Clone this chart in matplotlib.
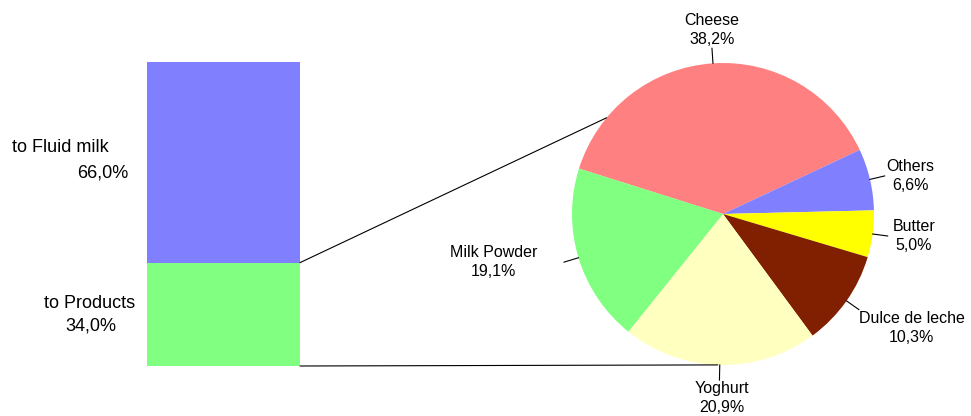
import numpy as np
import matplotlib
matplotlib.use('agg')
import matplotlib.pyplot as plt
from matplotlib.patches import ConnectionPatch

plt.rcParams['font.family'] = ['Liberation Sans', 'DejaVu Sans']

bar_labels = ['to Products', 'to Fluid milk']
bar_values = [34.0, 66.0]
pie_labels = ['Cheese', 'Others', 'Butter', 'Dulce de leche', 'Yoghurt', 'Milk Powder']
pie_values = [38.2, 6.6, 5.0, 10.3, 20.9, 19.1]

bar_colors = ['#80FF80', '#8080FF']
pie_colors = ['#FF8080', '#8080FF', '#FFFF00', '#802000', '#FFFFC0', '#80FF80']

W, H = 971, 416
fig = plt.figure(figsize=(W / 100, H / 100), dpi=100)


def px_box(x0, y0, x1, y1):
    return [x0 / W, 1 - y1 / H, (x1 - x0) / W, (y1 - y0) / H]


def fig_px(x, y):
    return x / W, 1 - y / H


def pct(v):
    return f'{v:.1f}%'.replace('.', ',')


# stacked bar on the left
ax_bar = fig.add_axes(px_box(147, 62, 300, 366))
bottom = 0
for v, c in zip(bar_values, bar_colors):
    ax_bar.bar(0, v, width=1, bottom=bottom, color=c, linewidth=0)
    bottom += v
ax_bar.set_xlim(-0.5, 0.5)
ax_bar.set_ylim(0, sum(bar_values))
ax_bar.axis('off')

# bar labels
fs_bar = 13
fig.text(*fig_px(60, 148), bar_labels[1], ha='center', va='center', fontsize=fs_bar)
fig.text(*fig_px(103, 173), pct(bar_values[1]), ha='center', va='center', fontsize=fs_bar)
fig.text(*fig_px(90, 303), bar_labels[0], ha='center', va='center', fontsize=fs_bar)
fig.text(*fig_px(91, 326), pct(bar_values[0]), ha='center', va='center', fontsize=fs_bar)

# pie on the right
ax_pie = fig.add_axes(px_box(572, 63, 874, 365))
wedges, _ = ax_pie.pie(pie_values, colors=pie_colors, startangle=162.5,
                       counterclock=False, radius=1,
                       wedgeprops=dict(linewidth=0))
ax_pie.set_xlim(-1, 1)
ax_pie.set_ylim(-1, 1)
ax_pie.axis('off')

# label layout: pixel offset from leader end, alignment
label_pos = [(0, 1, 'center', 'bottom'),
             (2, 0, 'left', 'center'),
             (5, 0, 'left', 'center'),
             (0, -1, 'left', 'top'),
             (2, -1, 'center', 'top'),
             (-27, 0, 'right', 'center')]

for w, name, v, (dx, dy, ha, va) in zip(wedges, pie_labels, pie_values, label_pos):
    ang = np.deg2rad((w.theta1 + w.theta2) / 2)
    x0, y0 = np.cos(ang), np.sin(ang)
    x1, y1 = 1.1 * x0, 1.1 * y0
    ax_pie.plot([x0, x1], [y0, y1], color='black', lw=0.8, clip_on=False)
    ax_pie.annotate(f'{name}\n{pct(v)}', xy=(x1, y1), xytext=(dx, dy),
                    textcoords='offset pixels', ha=ha, va=va,
                    multialignment='center', fontsize=11.5, linespacing=1.35,
                    annotation_clip=False)

# connector lines between bar and pie
products_top = bar_values[0]
for yb, a in [(products_top, 140.4), (0, -92)]:
    t = np.deg2rad(a)
    con = ConnectionPatch(xyA=(np.cos(t), np.sin(t)), coordsA=ax_pie.transData,
                          xyB=(0.5, yb), coordsB=ax_bar.transData,
                          color='black', lw=0.8)
    fig.add_artist(con)

fig.savefig('out.png', dpi=100)
